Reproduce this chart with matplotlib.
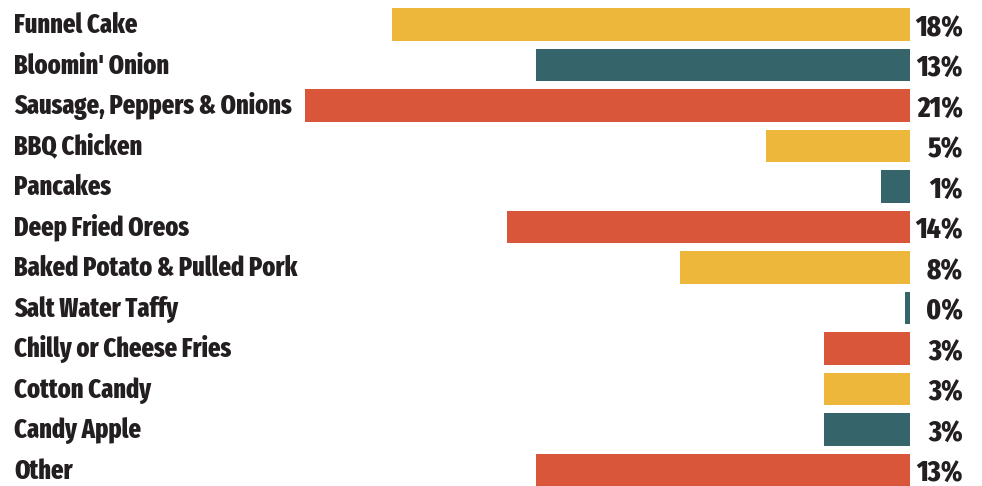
import matplotlib
matplotlib.use("Agg")
import matplotlib.pyplot as plt
from matplotlib import font_manager

categories = ["Funnel Cake", "Bloomin' Onion", "Sausage, Peppers & Onions", "BBQ Chicken",
              "Pancakes", "Deep Fried Oreos", "Baked Potato & Pulled Pork", "Salt Water Taffy",
              "Chilly or Cheese Fries", "Cotton Candy", "Candy Apple", "Other"]
values = [18, 13, 21, 5, 1, 14, 8, 0.17, 3, 3, 3, 13]
labels = ["18%", "13%", "21%", "5%", "1%", "14%", "8%", "0%", "3%", "3%", "3%", "13%"]
palette = ["#EDB73C", "#35646A", "#DA563B"]

names = {f.name for f in font_manager.fontManager.ttflist}
cands = ["Fira Sans Extra Condensed", "Fira Sans Condensed", "PT Sans Narrow",
         "Roboto Condensed", "Barlow Condensed", "Asap Condensed"]
fam = [c for c in cands if c in names][:1] + ["DejaVu Sans"]
txt = "#231F20"

W, H = 982, 486
fig = plt.figure(figsize=(W/100, H/100), dpi=100)
right_px = 910
ax = fig.add_axes([0, 0, right_px/W, 1])
pxper = 28.8
ax.set_xlim(right_px/pxper, 0)
step = 40.5
ax.set_ylim((H-24.5)/step, -24.5/step)
ax.axis("off")

for i, (c, v, l) in enumerate(zip(categories, values, labels)):
    ax.barh(i, v, height=0.81, color=palette[i % 3], left=0)
    ax.text(14/right_px, i + 8.5/step, c, transform=ax.get_yaxis_transform(), ha="left", va="baseline",
            fontsize=19, fontweight=800, family=fam, color=txt)
    ax.text(963/right_px, i + 11/step, l, transform=ax.get_yaxis_transform(), ha="right", va="baseline",
            fontsize=21, fontweight=800, family=fam, color=txt, clip_on=False)

fig.savefig("out.png", dpi=100)
